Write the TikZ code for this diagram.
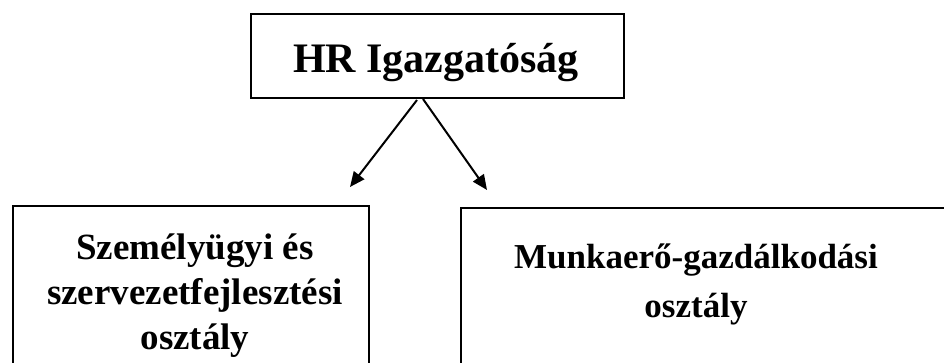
\documentclass[tikz,border=0pt]{standalone}
\usepackage{fontspec}
\setmainfont{Liberation Serif}
\usetikzlibrary{arrows.meta}
\begin{document}
\begin{tikzpicture}[x=1pt,y=-1pt,
  box/.style={draw=black,line width=2pt,inner sep=0pt,anchor=north west},
  lbl/.style={align=center,inner sep=0pt,anchor=base},
  arr/.style={line width=2pt,-{Triangle[length=15pt,width=13pt]}}]
\useasboundingbox (0,0) rectangle (944,363);
\node[box,minimum width=373pt,minimum height=84pt] (top) at (250,13) {};
\node[lbl,font=\bfseries\fontsize{42}{46}\selectfont] (toptxt) at (436,73) {HR Igazgatóság};
\node[box,minimum width=356pt,minimum height=200pt] (left) at (12,205) {};
\node[lbl,font=\bfseries\fontsize{37}{45}\selectfont] (lefttxt) at (195,349) {Személyügyi és\\szervezetfejlesztési\\osztály};
\node[box,minimum width=500pt,minimum height=200pt] (right) at (460,207) {};
\node[lbl,font=\bfseries\fontsize{35}{49}\selectfont] (righttxt) at (696,317) {Munkaerő-gazdálkodási\\osztály};
\coordinate (s1) at (417,100);
\coordinate (e1) at (350,187);
\coordinate (s2) at (423,99);
\coordinate (e2) at (487,190);
\draw[arr] (s1) -- (e1);
\draw[arr] (s2) -- (e2);
\end{tikzpicture}
\end{document}
